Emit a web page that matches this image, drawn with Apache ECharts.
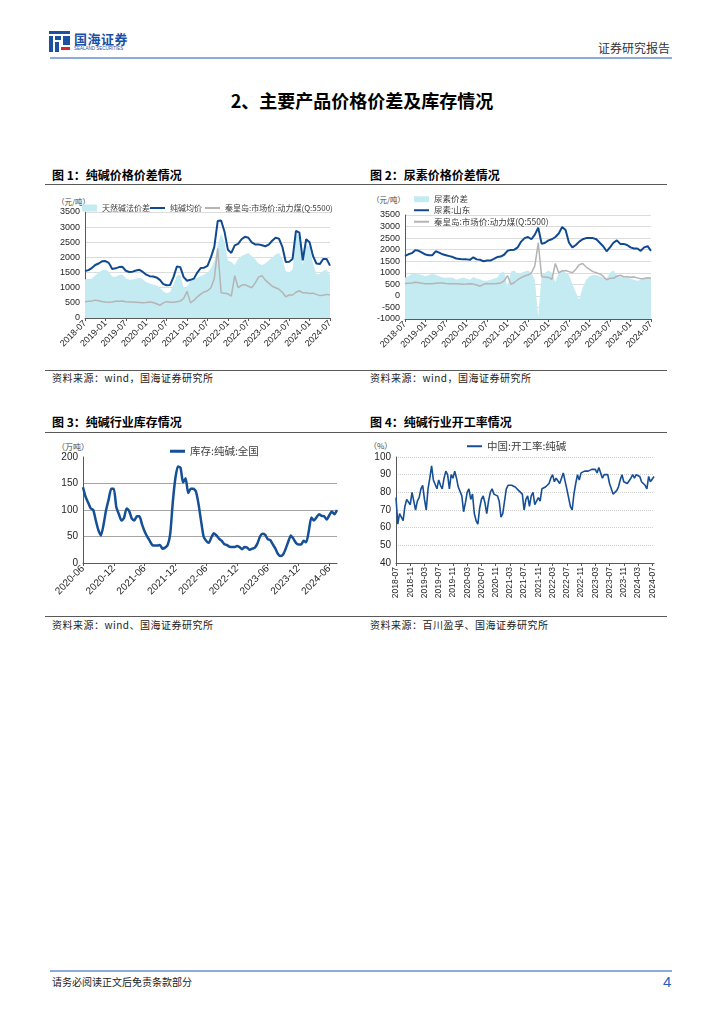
<!DOCTYPE html>
<html><head><meta charset="utf-8">
<script src="https://cdn.jsdelivr.net/npm/echarts@6/dist/echarts.min.js"></script>
<style>
body{margin:0;width:724px;height:1024px;background:#fff;position:relative;font-family:"Noto Sans CJK SC","Liberation Sans",sans-serif;overflow:hidden}
.abs{position:absolute;white-space:nowrap}
.hline{position:absolute;height:0;border-top:1px solid #595959}
.ftitle{position:absolute;white-space:nowrap;font-size:12px;line-height:12px;font-weight:bold;color:#000}
.src{position:absolute;white-space:nowrap;font-size:10px;line-height:10px;color:#222;letter-spacing:0.5px}
.unit{position:absolute;white-space:nowrap;font-size:7.5px;line-height:8px;color:#444}
.chart{position:absolute}
.blk{position:absolute;background:#1d4fa3}
</style></head>
<body>
<!-- header -->
<div class="blk" style="left:49px;top:31px;width:21px;height:3px"></div>
<div class="blk" style="left:49px;top:36px;width:4px;height:16px"></div>
<div class="blk" style="left:55px;top:36px;width:6px;height:4px"></div>
<div class="blk" style="left:63px;top:36px;width:7px;height:9px"></div>
<div class="blk" style="left:55px;top:42px;width:4px;height:10px"></div>
<div class="abs" style="left:61px;top:47px;width:9px;height:3px;background:#d9262c"></div>
<div class="abs" style="left:74px;top:32px;font-size:13px;line-height:13px;font-weight:bold;color:#1d4fa3;letter-spacing:0.5px">国海证券</div>
<div class="abs" style="left:74px;top:46px;font-size:4.5px;line-height:5px;color:#1d4fa3;font-family:'Liberation Sans'">SEALAND SECURITIES</div>
<div class="abs" style="left:598px;top:42px;font-size:12px;line-height:12px;color:#333">证券研究报告</div>
<div class="abs" style="left:50px;top:57px;width:622px;height:0;border-top:2px solid #8eaadb"></div>
<div class="abs" style="left:0;top:91px;width:724px;text-align:center;font-size:18px;line-height:18px;font-weight:bold;color:#000">2、主要产品价格价差及库存情况</div>

<!-- row 1 -->
<div class="ftitle" style="left:52px;top:169px">图 1：纯碱价格价差情况</div>
<div class="ftitle" style="left:370px;top:169px">图 2：尿素价格价差情况</div>
<div class="hline" style="left:45px;top:184px;width:622px"></div>
<div class="unit" style="left:57px;top:198px">（元/吨）</div>
<div class="unit" style="left:372px;top:196px">（元/吨）</div>
<div id="c1" class="chart" style="left:40px;top:190px;width:310px;height:175px"></div>
<div id="c2" class="chart" style="left:360px;top:190px;width:310px;height:175px"></div>
<div class="hline" style="left:45px;top:370px;width:622px"></div>
<div class="src" style="left:52px;top:373px">资料来源：wind，国海证券研究所</div>
<div class="src" style="left:370px;top:373px">资料来源：wind，国海证券研究所</div>

<!-- row 2 -->
<div class="ftitle" style="left:52px;top:416px">图 3：纯碱行业库存情况</div>
<div class="ftitle" style="left:370px;top:416px">图 4：纯碱行业开工率情况</div>
<div class="hline" style="left:45px;top:432px;width:622px"></div>
<div class="unit" style="left:57px;top:443px;font-size:8px">（万吨）</div>
<div class="unit" style="left:369px;top:442px;font-size:8px">（%）</div>
<div id="c3" class="chart" style="left:40px;top:435px;width:310px;height:180px"></div>
<div id="c4" class="chart" style="left:360px;top:435px;width:310px;height:180px"></div>
<div class="hline" style="left:45px;top:616px;width:622px"></div>
<div class="src" style="left:52px;top:620px">资料来源：wind、国海证券研究所</div>
<div class="src" style="left:370px;top:620px">资料来源：百川盈孚、国海证券研究所</div>

<!-- footer -->
<div class="abs" style="left:50px;top:970px;width:622px;height:0;border-top:2px solid #8eaadb"></div>
<div class="abs" style="left:52px;top:977px;font-size:10px;line-height:10px;color:#222">请务必阅读正文后免责条款部分</div>
<div class="abs" style="left:663px;top:974px;font-size:15px;line-height:15px;color:#1f5fbf;font-family:'Liberation Sans'">4</div>

<script>
// ---------- categories ----------
function monthSeq(y, m, n) {
  const a = [];
  for (let i = 0; i < n; i++) { const mm = m - 1 + i; a.push((y + Math.floor(mm / 12)) + '-' + String(mm % 12 + 1).padStart(2, '0')); }
  return a;
}
function halfMonthSeq(y, m, n) {
  const a = [];
  for (let i = 0; i < n; i++) {
    const mm = m - 1 + Math.floor(i / 2);
    const s = (y + Math.floor(mm / 12)) + '-' + String(mm % 12 + 1).padStart(2, '0');
    a.push(i % 2 ? s + '-16' : s);
  }
  return a;
}
const monthsPrice = monthSeq(2018, 7, 73);       // 2018-07 .. 2024-07
const halfMonthsInv = halfMonthSeq(2020, 6, 100); // 2020-06 .. 2024-07
const halfMonthsRate = halfMonthSeq(2018, 7, 146);// 2018-07 .. 2024-07

// ---------- chart 1: soda ash ----------
const sodaSpread = [1280,1290,1300,1400,1500,1580,1600,1530,1370,1360,1420,1440,1310,1260,1270,1300,1330,1280,1180,1140,1110,1080,1000,880,820,860,1100,1400,1420,1000,1050,1230,1290,1340,1390,1440,1500,1640,1880,2400,2800,2500,1900,1850,1750,1950,2050,2100,2150,2050,1950,1800,1750,1800,1900,2000,2100,2150,1950,1550,1500,1600,2700,2750,1750,2400,2350,1800,1450,1450,1550,1600,1400];
const sodaPrice = [1550,1580,1650,1750,1800,1870,1880,1820,1620,1640,1680,1690,1560,1520,1530,1570,1590,1520,1430,1380,1370,1340,1260,1120,1080,1090,1350,1700,1680,1350,1230,1260,1300,1500,1650,1660,1720,2000,2350,3200,3220,2850,2250,2150,2400,2450,2600,2680,2650,2500,2430,2430,2400,2370,2420,2550,2650,2620,2350,1850,1860,1950,2880,2820,1900,2600,2500,2050,1800,1780,1950,1950,1730];
const coalPrice = [540,550,560,590,570,545,530,520,530,550,555,560,540,530,530,520,510,500,510,530,510,470,420,500,540,520,520,540,560,650,880,500,580,700,790,860,900,1000,1300,2300,830,820,800,720,1400,1000,1080,1100,1050,1000,1150,1350,1400,1250,1150,1050,1000,950,850,700,760,760,850,900,830,830,810,820,780,740,750,780,760];

// ---------- chart 2: urea ----------
const ureaSpread = [780,850,950,950,940,900,850,900,950,920,850,800,780,800,780,700,750,800,750,700,820,750,720,650,650,700,750,800,1000,1050,400,1050,1100,950,1000,1050,1100,1000,700,-900,900,1000,1100,1000,600,1000,1150,1000,900,500,150,-150,350,700,850,900,900,850,800,750,1000,1100,900,850,800,800,750,700,650,700,800,800,750];
const ureaPrice = [1730,1800,1850,1980,1950,1870,1790,1760,1760,1930,1870,1800,1760,1720,1680,1620,1600,1580,1580,1560,1670,1580,1560,1500,1530,1530,1600,1680,1700,1780,1950,1990,2000,2100,2350,2500,2550,2450,2650,2950,2250,2300,2400,2450,2550,2700,2980,2850,2300,2100,2200,2350,2450,2500,2500,2500,2450,2300,2150,1930,2100,2300,2400,2250,2250,2200,2100,2050,2050,1950,2100,2150,1950];

// ---------- chart 3: inventory ----------
const inventory = [143,125,114,103,100,80,62,52,72,100,120,140,140,105,92,80,85,103,98,84,80,88,88,73,60,50,42,34,33,33,34,27,29,34,55,115,160,182,180,152,160,132,140,140,135,112,80,50,42,38,48,56,52,46,42,36,34,31,30,30,32,30,26,30,29,25,27,29,37,50,55,53,45,43,35,27,17,13,16,27,40,52,46,38,35,35,42,39,60,86,80,86,92,89,88,82,90,97,92,100];

// ---------- chart 4: operating rate ----------
const operRate = [77,62,68,66,64,72,76,76,73,80,75,70,75,77,82,84,76,70,82,88,95,87,88,82,87,84,82,88,92,90,82,90,88,92,88,83,83,78,69,74,80,82,76,79,68,64,62,71,76,78,74,68,75,80,82,79,79,78,75,66,68,75,82,84,83,84,85,83,84,81,80,79,70,76,78,72,78,80,73,74,77,75,82,83,83,84,85,88,90,86,88,89,85,88,91,90,82,77,72,70,79,85,90,87,91,90,92,91,92,91,93,92,93,91,94,93,88,90,89,90,85,84,79,78,81,83,87,90,86,87,85,84,88,90,88,90,91,89,86,87,84,82,89,86,87,89];

// ---------- names ----------
const n1 = ['天然碱法价差', '纯碱均价', '秦皇岛:市场价:动力煤(Q:5500)'];
const n2 = ['尿素价差', '尿素:山东', '秦皇岛:市场价:动力煤(Q:5500)'];
const n3 = '库存:纯碱:全国';
const n4 = '中国:开工率:纯碱';

const FONT = "'Liberation Sans','Noto Sans CJK SC',sans-serif";
const CJK = "'Noto Sans CJK SC',sans-serif";
const CYAN = '#c4ebf1', NAVY = '#0f4a91', GREY = '#b4b4b4', AX = '#595959';

function baseX(data, itv, rot, fs) {
  return {
    type: 'category', data: data, boundaryGap: false,
    axisLine: { onZero: false, lineStyle: { color: AX, width: 1 } },
    axisTick: { show: true, interval: itv, length: 3, lineStyle: { color: AX } },
    axisLabel: { interval: itv, rotate: rot, fontSize: fs, color: '#262626', margin: 4, fontFamily: FONT },
    splitLine: { show: false }
  };
}
function baseY(min, max, itv, fs, split) {
  return {
    type: 'value', min: min, max: max, interval: itv,
    axisLine: { show: true, lineStyle: { color: AX, width: 1 } },
    axisTick: { show: false },
    axisLabel: { fontSize: fs, color: '#262626', margin: 5, fontFamily: FONT, formatter: function (v) { return String(v); } },
    splitLine: split
  };
}
function lg(extra, fs) {
  return Object.assign({ padding: 0, itemWidth: 15, textStyle: { fontSize: fs, color: '#404040', fontFamily: CJK } }, extra);
}

const opt1 = {
  animation: false,
  textStyle: { fontFamily: FONT },
  grid: { left: 45, top: 22, width: 245, height: 106, outerBoundsMode: 'none' },
  legend: [
    lg({ left: 42, top: 14, itemHeight: 7, data: [{ name: n1[0], icon: 'rect' }] }, 8),
    lg({ left: 110, top: 14, itemHeight: 2, itemGap: 3, data: [{ name: n1[1], icon: 'rect' }, { name: n1[2], icon: 'rect' }] }, 8)
  ],
  xAxis: baseX(monthsPrice, 5, 45, 9),
  yAxis: baseY(0, 3500, 500, 9, { lineStyle: { color: '#dcdcdc', width: 1 } }),
  series: [
    { name: n1[0], type: 'line', data: sodaSpread, symbol: 'none', lineStyle: { width: 0 }, itemStyle: { color: CYAN }, areaStyle: { color: CYAN, opacity: 1, origin: 'start' } },
    { name: n1[1], type: 'line', data: sodaPrice, symbol: 'none', lineStyle: { width: 2, color: NAVY }, itemStyle: { color: NAVY } },
    { name: n1[2], type: 'line', data: coalPrice, symbol: 'none', lineStyle: { width: 1.5, color: GREY }, itemStyle: { color: GREY } }
  ]
};

const opt2 = {
  animation: false,
  textStyle: { fontFamily: FONT },
  grid: { left: 45, top: 25, width: 246, height: 104, outerBoundsMode: 'none' },
  legend: [
    lg({ orient: 'vertical', left: 54, top: 5, itemHeight: 6, data: [{ name: n2[0], icon: 'rect' }] }, 8.5),
    lg({ orient: 'vertical', left: 54, top: 16, itemHeight: 2, itemGap: 3, data: [{ name: n2[1], icon: 'rect' }, { name: n2[2], icon: 'rect' }] }, 8.5)
  ],
  xAxis: baseX(monthsPrice, 5, 45, 9),
  yAxis: baseY(-1000, 3500, 500, 9, { lineStyle: { color: '#dcdcdc', width: 1 } }),
  series: [
    { name: n2[0], type: 'line', data: ureaSpread, symbol: 'none', lineStyle: { width: 0 }, itemStyle: { color: CYAN }, areaStyle: { color: CYAN, opacity: 1, origin: 'start' } },
    { name: n2[1], type: 'line', data: ureaPrice, symbol: 'none', lineStyle: { width: 2, color: NAVY }, itemStyle: { color: NAVY } },
    { name: n2[2], type: 'line', data: coalPrice, symbol: 'none', lineStyle: { width: 1.5, color: GREY }, itemStyle: { color: GREY } }
  ]
};

const opt3 = {
  animation: false,
  textStyle: { fontFamily: FONT },
  grid: { left: 43, top: 22, width: 254, height: 106, outerBoundsMode: 'none' },
  legend: lg({ left: 130, top: 11, itemHeight: 3, data: [{ name: n3, icon: 'rect' }] }, 10.5),
  xAxis: baseX(halfMonthsInv, 11, 45, 10),
  yAxis: baseY(0, 200, 50, 10, { lineStyle: { color: ['#a6a6a6', '#a6a6a6', '#a6a6a6', '#a6a6a6', 'rgba(0,0,0,0)'], width: 1 } }),
  series: [
    { name: n3, type: 'line', data: inventory, symbol: 'none', smooth: 0.2, lineStyle: { width: 2.5, color: '#154f95' }, itemStyle: { color: '#154f95' } }
  ]
};

const opt4 = {
  animation: false,
  textStyle: { fontFamily: FONT },
  grid: { left: 36, top: 22, width: 258, height: 106, outerBoundsMode: 'none' },
  legend: lg({ left: 107, top: 6, itemHeight: 2, data: [{ name: n4, icon: 'rect' }] }, 10.5),
  xAxis: baseX(halfMonthsRate, 7, 90, 8.5),
  yAxis: baseY(40, 100, 10, 10, { lineStyle: { color: '#cfcfcf', width: 1, type: 'dotted' } }),
  series: [
    { name: n4, type: 'line', data: operRate, symbol: 'none', lineStyle: { width: 1.6, color: '#154f95' }, itemStyle: { color: '#154f95' } }
  ]
};

[['c1', opt1], ['c2', opt2], ['c3', opt3], ['c4', opt4]].forEach(function (p) {
  const ch = echarts.init(document.getElementById(p[0]), null, { renderer: 'canvas' });
  ch.setOption(p[1]);
});
</script>
</body></html>
